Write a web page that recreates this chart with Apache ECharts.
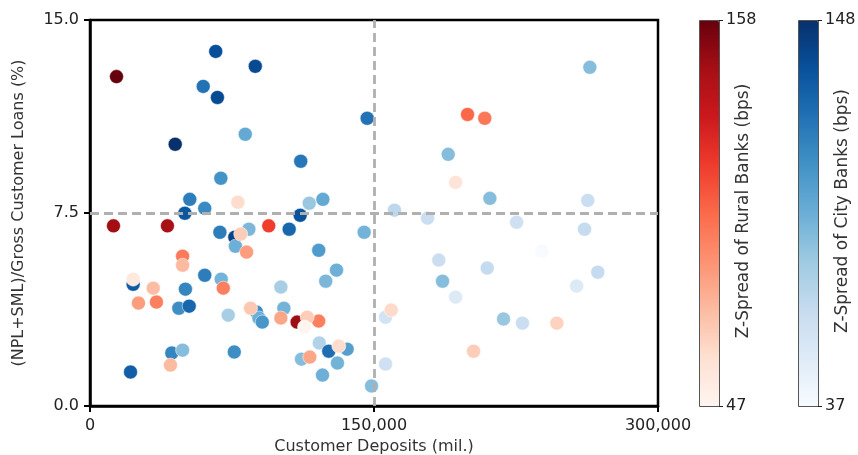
<!DOCTYPE html>
<html>
<head>
<meta charset="utf-8">
<script src="https://cdn.jsdelivr.net/npm/echarts@6/dist/echarts.min.js"></script>
<style>
html,body{margin:0;padding:0;background:#fff;}
#chart{width:858px;height:455px;}
</style>
</head>
<body>
<div id="chart"></div>
<script>
// ---- Data ----
var ruralDeposits = [14000, 12400, 40900, 109400, 94400, 199400, 208500, 48900, 35100, 70400, 120800, 25600, 82700, 100800, 116100, 48900, 33400, 42500, 84800, 114700, 79600, 78100, 131400, 22800, 113300, 193100, 159100, 202600, 246600];
var ruralRatio    = [12.8, 7.0, 7.0, 3.26, 7.0, 11.33, 11.18, 5.82, 4.04, 4.58, 3.30, 4.0, 5.98, 3.42, 1.90, 5.47, 4.58, 1.59, 3.80, 3.45, 6.68, 7.92, 2.33, 4.93, 3.07, 8.69, 3.73, 2.13, 3.22];
var ruralSpread   = [158, 145, 143, 146, 116, 103, 98, 97, 95, 95, 95, 85, 85, 82, 82, 75, 74, 75, 70, 68, 68, 62, 62, 55, 47, 58, 63, 68, 66];

var cityDeposits = [45000, 66400, 87300, 67300, 59800, 146400, 82000, 111300, 69100, 52700, 60600, 115800, 123000, 50100, 111000, 68600, 76500, 83900, 105200, 144800, 76800, 120800, 130200, 124500, 60600, 69300, 50400, 22800, 46900, 52400, 100800, 73000, 87900, 89200, 91000, 102400, 43200, 48900, 76200, 21400, 121100, 126100, 135800, 111700, 130700, 122800, 148700, 264000, 189200, 211200, 262900, 160800, 178300, 225300, 261200, 238600, 184200, 209800, 268200, 257000, 186200, 193100, 156100, 218400, 228400, 156100];
var cityRatio    = [10.17, 13.78, 13.20, 11.99, 12.42, 11.18, 10.56, 9.51, 8.85, 8.03, 7.68, 7.88, 8.03, 7.49, 7.41, 6.75, 6.56, 6.87, 6.87, 6.75, 6.21, 6.05, 5.28, 4.85, 5.08, 4.93, 4.54, 4.73, 3.80, 3.88, 4.62, 3.53, 3.65, 3.42, 3.26, 3.80, 2.06, 2.17, 2.10, 1.32, 2.45, 2.13, 2.21, 1.82, 1.67, 1.20, 0.78, 13.16, 9.78, 8.07, 7.99, 7.61, 7.30, 7.14, 6.87, 6.02, 5.67, 5.36, 5.20, 4.66, 4.85, 4.23, 3.45, 3.38, 3.22, 1.63];
var citySpread   = [148, 135, 137, 137, 120, 120, 95, 118, 106, 115, 110, 80, 95, 132, 133, 115, 140, 88, 125, 90, 92, 102, 92, 88, 115, 90, 112, 130, 108, 125, 75, 75, 108, 92, 104, 90, 112, 85, 108, 128, 72, 122, 100, 85, 90, 92, 85, 85, 85, 85, 62, 68, 62, 60, 65, 37, 62, 65, 65, 52, 85, 52, 58, 80, 62, 60];

var xTicks = [0, 150000, 300000];
var yTicks = [0, 7.5, 15];
var refX = [150000];
var refY = [7.5];
var ruralRange = [47, 158];
var cityRange = [37, 148];

var reds = ['#fff5f0','#fee0d2','#fcbba1','#fc9272','#fb6a4a','#ef3b2c','#cb181d','#a50f15','#67000d'];
var blues = ['#f7fbff','#deebf7','#c6dbef','#9ecae1','#6baed6','#4292c6','#2171b5','#08519c','#08306b'];

function zip(a, b, c) { return a.map(function (v, i) { return [v, b[i], c[i]]; }); }

var FONT = "'DejaVu Sans', sans-serif";
var TXT = '#222';

var chart = echarts.init(document.getElementById('chart'), null, {renderer: 'canvas'});

var gL = 90, gT = 20, gW = 568, gH = 386;
var cb1X = 699, cb2X = 798, cbW = 20;

var graphics = [];
function colorbar(x, range, title) {
  graphics.push({type: 'rect', shape: {x: x + 0.5, y: gT + 0.5, width: cbW, height: gH}, style: {fill: null, stroke: '#555', lineWidth: 1}, z: 100});
  graphics.push({type: 'line', shape: {x1: x + cbW, y1: gT + 0.5, x2: x + cbW + 4, y2: gT + 0.5}, style: {stroke: '#222', lineWidth: 1}, z: 100});
  graphics.push({type: 'line', shape: {x1: x + cbW, y1: gT + gH + 0.5, x2: x + cbW + 4, y2: gT + gH + 0.5}, style: {stroke: '#222', lineWidth: 1}, z: 100});
  graphics.push({type: 'text', x: x + cbW + 7, y: gT, style: {text: String(range[1]), font: '16px ' + FONT, fill: TXT, verticalAlign: 'middle', align: 'left'}, z: 100});
  graphics.push({type: 'text', x: x + cbW + 7, y: gT + gH, style: {text: String(range[0]), font: '16px ' + FONT, fill: TXT, verticalAlign: 'middle', align: 'left'}, z: 100});
  graphics.push({type: 'text', x: x + 45, y: gT + gH / 2 - 2, rotation: Math.PI / 2, style: {text: title, font: '17px ' + FONT, fill: '#333', verticalAlign: 'middle', align: 'center'}, z: 100});
}
colorbar(cb1X, ruralRange, 'Z-Spread of Rural Banks (bps)');
colorbar(cb2X, cityRange, 'Z-Spread of City Banks (bps)');

var option = {
  animation: false,
  backgroundColor: '#fff',
  grid: {left: gL, top: gT, width: gW, height: gH, show: true, borderColor: '#000', borderWidth: 2.5,
    containLabel: false, outerBoundsMode: 'none'},
  xAxis: {
    type: 'value', min: xTicks[0], max: xTicks[2], interval: xTicks[1] - xTicks[0],
    splitLine: {show: false},
    axisLine: {show: true, onZero: false, lineStyle: {color: '#000', width: 2.5}},
    axisTick: {show: true, length: 6, lineStyle: {color: '#000', width: 2}},
    axisLabel: {fontFamily: FONT, fontSize: 16, color: TXT, margin: 12,
      formatter: function (v) { return v.toLocaleString('en-US'); }},
    name: 'Customer Deposits (mil.)', nameLocation: 'middle', nameGap: 33,
    nameTextStyle: {fontFamily: FONT, fontSize: 16, color: '#333'}
  },
  yAxis: {
    type: 'value', min: yTicks[0], max: yTicks[2], interval: yTicks[1] - yTicks[0],
    splitLine: {show: false},
    axisLine: {show: true, onZero: false, lineStyle: {color: '#000', width: 2.5}},
    axisTick: {show: true, length: 6, lineStyle: {color: '#000', width: 2}},
    axisLabel: {fontFamily: FONT, fontSize: 16, color: TXT, margin: 11,
      formatter: function (v) { return v.toFixed(1); }},
    name: '(NPL+SML)/Gross Customer Loans (%)', nameLocation: 'middle', nameGap: 63,
    nameTextStyle: {fontFamily: FONT, fontSize: 16, color: '#333'}
  },
  visualMap: [
    {type: 'continuous', seriesIndex: 1, dimension: 2, min: ruralRange[0], max: ruralRange[1],
      inRange: {color: reds}, calculable: false, orient: 'vertical', left: cb1X, top: gT,
      itemWidth: cbW, itemHeight: gH, padding: 0, text: null, showLabel: false, hoverLink: false},
    {type: 'continuous', seriesIndex: 2, dimension: 2, min: cityRange[0], max: cityRange[1],
      inRange: {color: blues}, calculable: false, orient: 'vertical', left: cb2X, top: gT,
      itemWidth: cbW, itemHeight: gH, padding: 0, text: null, showLabel: false, hoverLink: false}
  ],
  graphic: graphics,
  series: [
    {type: 'line', data: [], z: 1, silent: true,
      markLine: {silent: true, symbol: ['none', 'none'], label: {show: false},
        lineStyle: {color: '#b0b0b0', type: [9, 5], width: 2.8},
        data: refX.map(function (v) { return {xAxis: v}; }).concat(refY.map(function (v) { return {yAxis: v}; }))}},
    {type: 'scatter', name: 'Rural', z: 4, symbolSize: 14, data: zip(ruralDeposits, ruralRatio, ruralSpread),
      itemStyle: {opacity: 1, borderColor: '#fff', borderWidth: 0.5}},
    {type: 'scatter', name: 'City', z: 3, symbolSize: 14, data: zip(cityDeposits, cityRatio, citySpread),
      itemStyle: {opacity: 1, borderColor: '#fff', borderWidth: 0.5}}
  ]
};
chart.setOption(option);
</script>
</body>
</html>
